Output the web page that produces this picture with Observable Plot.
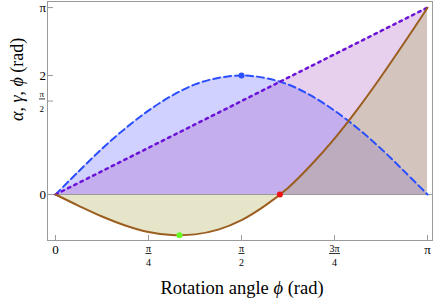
<!DOCTYPE html>
<html>
<head>
<meta charset="utf-8">
<script src="https://cdn.jsdelivr.net/npm/d3@7"></script>
<script src="https://cdn.jsdelivr.net/npm/@observablehq/plot@0.6"></script>
<style>
  body { margin: 0; background: #fff; }
  svg { display: block; }
</style>
</head>
<body>
<script>
// Rotation angle grid (rad)
const phi = [0, 0.196, 0.393, 0.589, 0.785, 0.982, 1.178, 1.374, 1.571, 1.767, 1.963, 2.160, 2.356, 2.553, 2.749, 2.945, 3.142];
// alpha (blue dashed)
const alpha = [0, 0.39, 0.77, 1.11, 1.41, 1.66, 1.85, 1.96, 2.00, 1.96, 1.85, 1.66, 1.41, 1.11, 0.77, 0.39, 0];
// gamma (brown solid)
const gamma = [0, -0.19, -0.37, -0.52, -0.63, -0.68, -0.67, -0.59, -0.43, -0.19, 0.11, 0.50, 0.94, 1.44, 1.98, 2.55, 3.14];
// special points
const markerX = [1.571, 1.047, 1.895];
const markerY = [2.00, -0.685, 0];
const markerColor = ["#2b4fff", "#66ff22", "#ee1111"];
// ticks
const xTicks = [0, Math.PI / 4, Math.PI / 2, 3 * Math.PI / 4, Math.PI];
const xTickLabels = ["0", "π/4", "π/2", "3π/4", "π"];
const yTicks = [0, Math.PI / 2, 2, Math.PI];
const yTickLabels = ["0", "π/2", "2", "π"];
const xLabel = "Rotation angle ϕ (rad)";
const yLabel = "α, γ, ϕ (rad)";

const table = phi.map((p, i) => ({phi: p, alpha: alpha[i], gamma: gamma[i]}));
const markers = markerX.map((x, i) => ({x, y: markerY[i], c: markerColor[i]}));
const xT = xTicks.map((v, i) => ({v, l: xTickLabels[i]}));
const yT = yTicks.map((v, i) => ({v, l: yTickLabels[i]}));
const xWhole = xT.filter(d => !d.l.includes("/"));
const xFrac = xT.filter(d => d.l.includes("/"));
const yWhole = yT.filter(d => !d.l.includes("/"));
const yFrac = yT.filter(d => d.l.includes("/"));

const chart = Plot.plot({
  width: 436,
  height: 306,
  marginLeft: 47,
  marginRight: 4,
  marginTop: 1,
  marginBottom: 66,
  style: {fontFamily: "'Liberation Serif', 'DejaVu Serif', serif", background: "#fff", color: "#000"},
  x: {domain: [-0.0676, 3.1838], axis: null},
  y: {domain: [-0.773, 3.244], axis: null},
  marks: [
    Plot.areaY(table, {x: "phi", y1: 0, y2: "alpha", curve: "catmull-rom", fill: "rgb(0,0,255)", fillOpacity: 0.18}),
    Plot.areaY(table, {x: "phi", y1: 0, y2: "phi", fill: "rgb(159,75,190)", fillOpacity: 0.26}),
    Plot.areaY(table, {x: "phi", y1: 0, y2: "gamma", curve: "catmull-rom", fill: "rgb(172,168,80)", fillOpacity: 0.3}),
    Plot.ruleY([0], {stroke: "#9a9a9a", strokeWidth: 1}),
    Plot.frame({stroke: "#9a9a9a", strokeWidth: 1}),
    Plot.tickX(xTicks, {x: d => d, insetTop: 234, stroke: "#9a9a9a"}),
    Plot.tickY(yTicks, {y: d => d, insetRight: 379, stroke: "#9a9a9a"}),
    Plot.line(table, {x: "phi", y: "alpha", curve: "catmull-rom", stroke: "#2b4fff", strokeWidth: 2, strokeDasharray: "7,4"}),
    Plot.line(table, {x: "phi", y: "phi", stroke: "#6a12d8", strokeWidth: 2.5, strokeDasharray: "2.5,4.5"}),
    Plot.line(table, {x: "phi", y: "gamma", curve: "catmull-rom", stroke: "#9b5e1f", strokeWidth: 2}),
    Plot.dot(markers, {x: "x", y: "y", r: 3, fill: "c", stroke: null}),
    // x tick labels
    Plot.text(xWhole, {x: "v", frameAnchor: "bottom", text: "l", dy: 13, fontSize: 13}),
    Plot.text(xFrac, {x: "v", frameAnchor: "bottom", text: d => d.l.split("/")[0], dy: 11, fontSize: 10, className: "fracnum"}),
    Plot.text(xFrac, {x: "v", frameAnchor: "bottom", text: d => d.l.split("/")[1], dy: 25, fontSize: 10}),
    // y tick labels
    Plot.text(yWhole, {y: "v", frameAnchor: "left", text: "l", dx: -8, fontSize: 13}),
    Plot.text(yFrac, {y: "v", frameAnchor: "left", text: d => d.l.split("/")[0], dx: -8, dy: -7, fontSize: 9, className: "fracnum"}),
    Plot.text(yFrac, {y: "v", frameAnchor: "left", text: d => d.l.split("/")[1], dx: -8, dy: 8, fontSize: 9}),
    // axis labels
    Plot.text([xLabel], {frameAnchor: "bottom", text: d => d, dx: 2, dy: 53, fontSize: 18.5, className: "italab"}),
    Plot.text([yLabel], {frameAnchor: "left", text: d => d, dx: -30, rotate: -90, fontSize: 18, className: "italab"})
  ]
});
document.body.append(chart);

// fraction bars
d3.select(chart).selectAll(".fracnum text").each(function () {
  const b = this.getBBox();
  const line = document.createElementNS("http://www.w3.org/2000/svg", "line");
  line.setAttribute("x1", b.x - 0.5);
  line.setAttribute("x2", b.x + b.width + 0.5);
  line.setAttribute("y1", b.y + b.height);
  line.setAttribute("y2", b.y + b.height);
  line.setAttribute("stroke", "#000");
  line.setAttribute("stroke-width", 0.8);
  const t = this.getAttribute("transform");
  if (t) line.setAttribute("transform", t);
  this.parentNode.appendChild(line);
});

// italic Greek letters in axis labels
d3.select(chart).selectAll(".italab text").each(function () {
  const s = this.textContent;
  this.textContent = "";
  for (const ch of s) {
    const ts = document.createElementNS("http://www.w3.org/2000/svg", "tspan");
    if (/[α-ωϕ]/.test(ch)) ts.setAttribute("font-style", "italic");
    ts.textContent = ch;
    this.appendChild(ts);
  }
});
</script>
</body>
</html>
